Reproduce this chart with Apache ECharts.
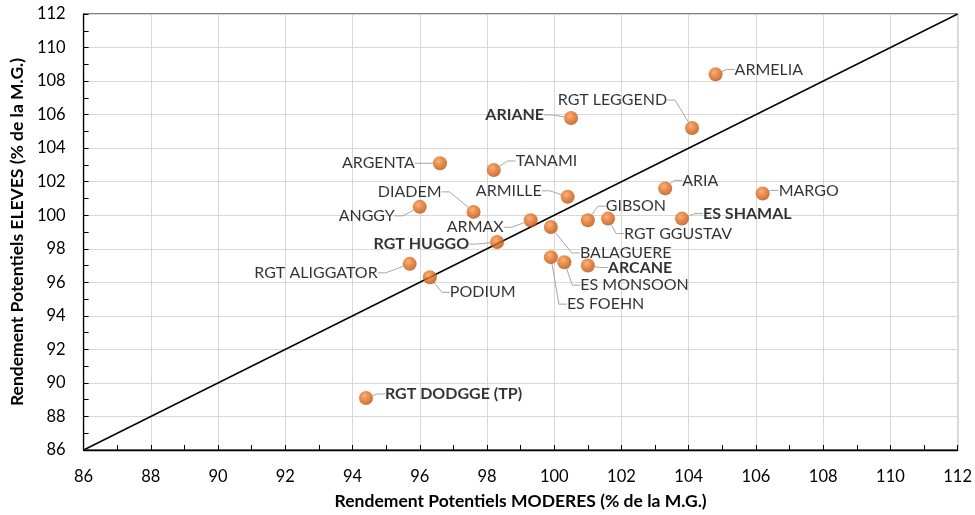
<!DOCTYPE html>
<html>
<head>
<meta charset="utf-8">
<script src="https://cdn.jsdelivr.net/npm/echarts@6/dist/echarts.min.js"></script>
<style>
  html, body { margin: 0; padding: 0; background: #fff; }
  #main { width: 975px; height: 515px; }
</style>
</head>
<body>
<div id="main"></div>
<script>
// varietes, rendement potentiels moderes (x) / eleves (y), en % de la M.G.
var varietes = ['ARMELIA', 'RGT LEGGEND', 'ARIANE', 'ARGENTA', 'TANAMI', 'ARIA', 'MARGO',
  'ARMILLE', 'DIADEM', 'ANGGY', 'GIBSON', 'RGT GGUSTAV', 'ES SHAMAL', 'ARMAX', 'BALAGUERE',
  'RGT HUGGO', 'ES FOEHN', 'ES MONSOON', 'ARCANE', 'RGT ALIGGATOR', 'PODIUM', 'RGT DODGGE (TP)']
var moderes = [104.8, 104.1, 100.5, 96.6, 98.2, 103.3, 106.2,
  100.4, 97.6, 96.0, 101.0, 101.6, 103.8, 99.3, 99.9,
  98.3, 99.9, 100.3, 101.0, 95.7, 96.3, 94.4]
var eleves = [108.4, 105.2, 105.8, 103.1, 102.7, 101.6, 101.3,
  101.1, 100.2, 100.5, 99.7, 99.8, 99.8, 99.7, 99.3,
  98.4, 97.5, 97.2, 97.0, 97.1, 96.3, 89.1]
var diagonale = [[86, 86], [112, 112]]
var ticks = [86, 88, 90, 92, 94, 96, 98, 100, 102, 104, 106, 108, 110, 112]

// placement des etiquettes : [alignement, dx, dy] depuis le centre du point
var labelPos = {
  'ARMELIA': ['left', 19, -5],
  'RGT LEGGEND': ['right', -25, -28],
  'ARIANE': ['right', -27, -3],
  'ARGENTA': ['right', -25, 0],
  'TANAMI': ['left', 22, -9],
  'ARIA': ['left', 17, -8],
  'MARGO': ['left', 16, -3],
  'ARMILLE': ['right', -26, -6],
  'DIADEM': ['right', -32, -20],
  'ANGGY': ['right', -25, 9],
  'GIBSON': ['left', 18, -14],
  'RGT GGUSTAV': ['left', 16, 15],
  'ES SHAMAL': ['left', 21, -5],
  'ARMAX': ['right', -27, 7],
  'BALAGUERE': ['left', 29, 26],
  'RGT HUGGO': ['right', -28, 2],
  'ES FOEHN': ['left', 16, 47],
  'ES MONSOON': ['left', 16, 23],
  'ARCANE': ['left', 20, 2],
  'RGT ALIGGATOR': ['right', -32, 9],
  'PODIUM': ['left', 20, 15],
  'RGT DODGGE (TP)': ['left', 19, -4]
}
var enGras = ['ARIANE', 'RGT HUGGO', 'ES SHAMAL', 'ARCANE', 'RGT DODGGE (TP)']

var font = 'Lato'
var points = varietes.map(function (n, i) {
  return {
    name: n,
    value: [moderes[i], eleves[i]],
    label: {
      align: labelPos[n][0],
      fontWeight: enGras.indexOf(n) >= 0 ? 'bold' : 'normal'
    }
  }
})

var chart = echarts.init(document.getElementById('main'))

function axe(nom, gap, marge) {
  return {
    type: 'value',
    min: ticks[0],
    max: ticks[ticks.length - 1],
    interval: 2,
    name: nom,
    nameLocation: 'middle',
    nameGap: gap,
    nameTextStyle: { fontFamily: font, fontSize: 17.5, fontWeight: 'bold', color: '#000' },
    axisLine: { show: true, onZero: false, lineStyle: { color: '#000', width: 1.3 } },
    axisTick: { show: true, inside: true, length: 5, lineStyle: { color: '#000' } },
    minorTick: { show: true, splitNumber: 2, length: 5, lineStyle: { color: '#000' } },
    axisLabel: { fontFamily: font, fontSize: 16.5, color: '#000', margin: marge },
    splitLine: { show: true, lineStyle: { color: '#d9d9d9', width: 1 } }
  }
}

chart.setOption({
  animation: false,
  grid: { left: 81, top: 14, right: 17, bottom: 65, show: true, borderColor: '#000', borderWidth: 1 },
  xAxis: axe('Rendement Potentiels MODERES (% de la M.G.)', 42, 18),
  yAxis: axe('Rendement Potentiels ELEVES (% de la M.G.)', 50, 18),
  series: [
    {
      type: 'line',
      data: diagonale,
      symbol: 'none',
      silent: true,
      lineStyle: { color: '#000', width: 1.4 },
      z: 2
    },
    {
      type: 'scatter',
      data: points,
      symbolSize: 14,
      z: 3,
      itemStyle: {
        color: {
          type: 'radial', x: 0.4, y: 0.35, r: 0.7,
          colorStops: [
            { offset: 0, color: '#f6a35f' },
            { offset: 0.35, color: '#ec7728' },
            { offset: 1, color: '#b04c09' }
          ]
        }
      },
      label: {
        show: true,
        formatter: '{b}',
        fontFamily: font,
        fontSize: 16,
        color: '#000',
        verticalAlign: 'middle'
      },
      labelLine: { show: true, length2: 8, lineStyle: { color: '#a6a6a6', width: 1 } },
      labelLayout: function (p) {
        var pos = labelPos[varietes[p.dataIndex]]
        return {
          x: p.rect.x + p.rect.width / 2 + pos[1],
          y: p.rect.y + p.rect.height / 2 + pos[2]
        }
      }
    }
  ]
})
</script>
</body>
</html>
